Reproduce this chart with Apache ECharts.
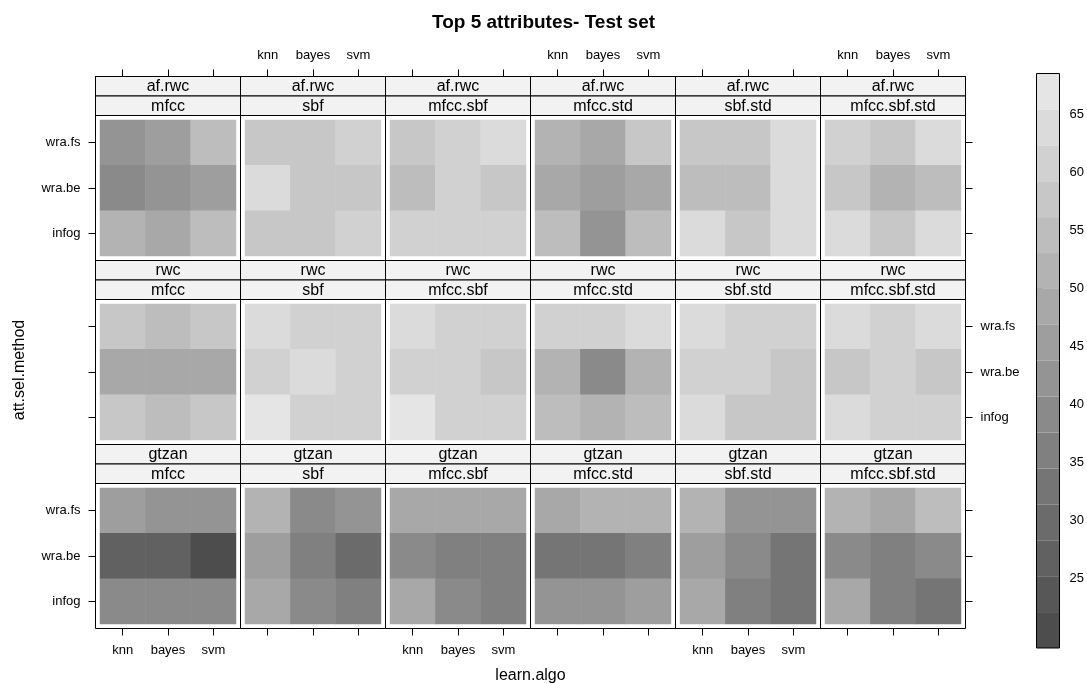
<!DOCTYPE html>
<html><head><meta charset="utf-8">
<script src="https://cdn.jsdelivr.net/npm/echarts@6/dist/echarts.min.js"></script>
<style>html,body{margin:0;padding:0;background:#fff}#c{width:1087px;height:684px}</style>
</head><body><div id="c"></div>
<script>
// ---------------- data ----------------
const learnAlgo = ['knn', 'bayes', 'svm'];
const attSelMethod = ['infog', 'wra.be', 'wra.fs']; // bottom -> top
const featureSets = ['mfcc', 'sbf', 'mfcc.sbf', 'mfcc.std', 'sbf.std', 'mfcc.sbf.std'];
const datasets = ['af.rwc', 'rwc', 'gtzan'];
// each panel: rows wra.fs, wra.be, infog ; columns knn, bayes, svm
const afrwc = [
  [[42.4, 45.9, 55.2], [39.6, 42.9, 45.5], [51.8, 48.7, 54.8]],
  [[58.1, 57.8, 61.3], [64.2, 58.4, 57.9], [58.0, 58.3, 61.0]],
  [[57.7, 61.2, 64.4], [55.0, 61.5, 58.2], [61.1, 60.9, 61.6]],
  [[52.0, 48.9, 58.1], [48.5, 45.8, 48.8], [55.3, 42.7, 54.9]],
  [[58.2, 57.9, 64.3], [54.7, 55.1, 64.0], [64.6, 58.0, 64.2]],
  [[61.2, 57.6, 64.5], [58.4, 51.9, 55.0], [64.1, 58.2, 64.4]]
];
const rwc = [
  [[58.3, 55.1, 57.8], [49.0, 48.7, 48.9], [58.0, 55.3, 57.9]],
  [[64.2, 61.0, 61.3], [61.4, 64.6, 61.1], [67.9, 61.2, 61.0]],
  [[64.5, 61.3, 61.1], [61.0, 61.2, 58.1], [68.5, 61.4, 61.2]],
  [[61.2, 60.9, 64.0], [51.6, 39.4, 51.9], [55.2, 52.1, 55.0]],
  [[64.3, 61.1, 61.4], [61.2, 61.0, 58.3], [64.0, 57.9, 58.2]],
  [[64.1, 61.3, 64.6], [58.0, 61.5, 58.2], [64.4, 61.0, 61.3]]
];
const gtzan = [
  [[45.7, 42.6, 42.3], [27.2, 26.9, 19.0], [39.8, 39.5, 39.6]],
  [[52.0, 39.7, 42.8], [45.9, 36.3, 30.4], [48.9, 39.4, 36.6]],
  [[48.7, 48.9, 48.6], [39.8, 36.5, 36.2], [49.0, 39.5, 36.4]],
  [[48.8, 51.6, 51.9], [33.4, 33.1, 36.3], [42.5, 42.8, 45.6]],
  [[51.8, 42.7, 42.4], [45.5, 39.6, 33.5], [48.6, 36.4, 33.2]],
  [[52.1, 48.8, 55.1], [39.9, 36.6, 39.5], [48.7, 36.2, 33.6]]
];
const colorBreaks = [18.95, 22.05, 25.15, 28.25, 31.35, 34.45, 37.55, 40.65, 43.75,
  46.85, 49.95, 53.05, 56.15, 59.25, 62.35, 65.45, 68.55];
const keyTicks = [25, 30, 35, 40, 45, 50, 55, 60, 65];

// ---------------- layout / style ----------------
const FONT = '"Liberation Sans", Arial, Helvetica, sans-serif';
const L = 95.5, CW = 145, T0 = 76.5, RP = 184, SH = 19.5;
const PH = RP - 2 * SH;
const INS = 0.1 / 3.2;
const nBins = colorBreaks.length - 1;
const grays = [];
for (let i = 0; i < nBins; i++) {
  const g = Math.round(255 * (0.3 + 0.6 * i / (nBins - 1)));
  grays.push('rgb(' + g + ',' + g + ',' + g + ')');
}
const panelData = [afrwc, rwc, gtzan];

const grids = [], xAxes = [], yAxes = [], series = [], graphics = [];
const tickStyle = {show: true, alignWithLabel: true, length: 7, lineStyle: {color: '#000', width: 1}};
const lblStyle = {color: '#000', fontSize: 13, fontFamily: FONT};

for (let r = 0; r < datasets.length; r++) {
  for (let c = 0; c < featureSets.length; c++) {
    const g = r * featureSets.length + c;
    const x0 = L + c * CW, top = T0 + r * RP, pTop = top + 2 * SH;
    const ix = CW * INS, iy = PH * INS;
    grids.push({left: x0 + ix, top: pTop + iy, width: CW - 2 * ix, height: PH - 2 * iy});
    xAxes.push({
      gridIndex: g, type: 'category', data: learnAlgo,
      position: r === 0 ? 'top' : 'bottom',
      offset: r === 0 ? iy + 2 * SH : iy,
      show: r !== 1,
      axisLine: {show: false}, axisTick: tickStyle, splitLine: {show: false},
      axisLabel: Object.assign({show: r === 0 ? c % 2 === 1 : c % 2 === 0, margin: r === 0 ? 15 : 15}, lblStyle)
    });
    yAxes.push({
      gridIndex: g, type: 'category', data: attSelMethod,
      position: c === 0 ? 'left' : 'right', offset: ix,
      show: c === 0 || c === featureSets.length - 1,
      axisLine: {show: false}, axisTick: tickStyle, splitLine: {show: false},
      axisLabel: Object.assign({show: c === 0 ? r !== 1 : r === 1, margin: 15}, lblStyle)
    });
    const m = panelData[r][c];
    const d = [];
    for (let row = 0; row < 3; row++) {
      for (let col = 0; col < 3; col++) {
        d.push([col, 2 - row, m[row][col]]);
      }
    }
    series.push({
      type: 'heatmap', xAxisIndex: g, yAxisIndex: g, data: d, silent: true,
      itemStyle: {borderWidth: 0}, emphasis: {disabled: true}
    });
    // strips
    const stripTexts = [datasets[r], featureSets[c]];
    for (let s = 0; s < 2; s++) {
      graphics.push({
        type: 'rect', z: 10,
        shape: {x: x0, y: top + s * SH, width: CW, height: SH},
        style: {fill: '#f2f2f2', stroke: '#000', lineWidth: 1}
      });
      graphics.push({
        type: 'text', z: 11,
        style: {text: stripTexts[s], x: x0 + CW / 2, y: top + s * SH + SH / 2 + 0.5,
          textAlign: 'center', textVerticalAlign: 'middle', font: '16px ' + FONT, fill: '#000'}
      });
    }
    // panel frame
    graphics.push({
      type: 'rect', z: 12,
      shape: {x: x0, y: top, width: CW, height: RP},
      style: {fill: 'none', stroke: '#000', lineWidth: 1}
    });
  }
}

// colour key
const KG = grids.length;
const KX = 1036.5, KY = 73.5, KW = 23, KH = 574.5;
grids.push({left: KX, top: KY, width: KW, height: KH});
xAxes.push({gridIndex: KG, type: 'value', min: 0, max: 1, show: false});
yAxes.push({
  gridIndex: KG, type: 'value', min: colorBreaks[0], max: colorBreaks[nBins],
  position: 'right', axisLine: {show: false}, splitLine: {show: false},
  axisTick: {show: true, length: 6, customValues: keyTicks, lineStyle: {color: '#000'}},
  axisLabel: Object.assign({margin: 10, customValues: keyTicks}, lblStyle)
});
series.push({
  type: 'custom', xAxisIndex: KG, yAxisIndex: KG, silent: true,
  data: colorBreaks.slice(0, -1).map((b, i) => [b, colorBreaks[i + 1], i]),
  encode: {y: [0, 1]},
  renderItem: function (params, api) {
    const lo = api.value(0), hi = api.value(1), idx = api.value(2);
    const p0 = api.coord([0, lo]), p1 = api.coord([1, hi]);
    return {type: 'rect', shape: {x: p0[0], y: p1[1], width: p1[0] - p0[0], height: p0[1] - p1[1]},
      style: {fill: grays[idx]}};
  }
});
graphics.push({
  type: 'rect', z: 12, shape: {x: KX, y: KY, width: KW, height: KH},
  style: {fill: 'none', stroke: '#000', lineWidth: 1}
});

// axis titles
graphics.push({
  type: 'text', z: 11, rotation: Math.PI / 2, x: 20, y: 370,
  style: {text: 'att.sel.method', x: 0, y: 0, textAlign: 'center', textVerticalAlign: 'middle',
    font: '16px ' + FONT, fill: '#000'}
});
graphics.push({
  type: 'text', z: 11,
  style: {text: 'learn.algo', x: L + 3 * CW, y: 676, textAlign: 'center', textVerticalAlign: 'middle',
    font: '16px ' + FONT, fill: '#000'}
});

const chart = echarts.init(document.getElementById('c'), null, {renderer: 'canvas'});
chart.setOption({
  animation: false,
  backgroundColor: '#fff',
  title: {text: 'Top 5 attributes- Test set', left: 'center', top: 8,
    textStyle: {fontSize: 19, fontWeight: 'bold', fontFamily: FONT, color: '#000'}},
  grid: grids, xAxis: xAxes, yAxis: yAxes,
  visualMap: {
    type: 'piecewise', show: false, dimension: 2,
    seriesIndex: series.map((s, i) => i).filter(i => series[i].type === 'heatmap'),
    pieces: grays.map((col, i) => i === nBins - 1
      ? {gte: colorBreaks[i], lte: colorBreaks[i + 1], color: col}
      : {gte: colorBreaks[i], lt: colorBreaks[i + 1], color: col})
  },
  series: series,
  graphic: graphics
});
</script>
</body></html>
